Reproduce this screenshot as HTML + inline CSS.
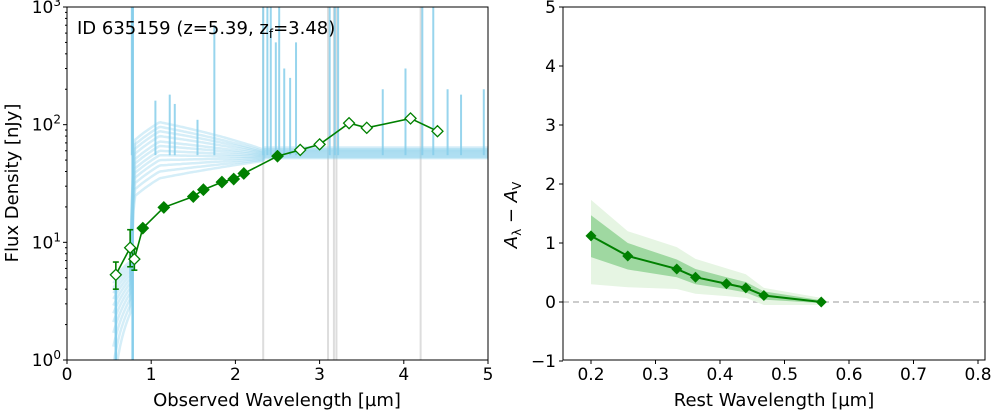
<!DOCTYPE html>
<html><head><meta charset="utf-8"><style>
body{margin:0;background:#fff;font-family:"Liberation Sans","DejaVu Sans",sans-serif}
svg text{font-family:"DejaVu Sans","Liberation Sans",sans-serif;fill:#000}
</style></head><body>
<svg id="c" width="996" height="415" viewBox="0 0 996 415" xmlns="http://www.w3.org/2000/svg"></svg>
<script>
// Left panel data
const sedWave=[0.58,0.75,0.80,0.90,1.15,1.50,1.62,1.84,1.98,2.10,2.50,2.77,3.00,3.35,3.56,4.08,4.40];
const sedFlux=[5.3,9.0,7.2,13.2,19.8,24.5,28,32.5,34.5,38.5,54,61,68,103,94,113,88];
const sedOpen=[1,1,1,0,0,0,0,0,0,0,0,1,1,1,1,1,1];
const sedErrLo=[4.0,6.2,5.8];const sedErrHi=[6.8,12.8,8.8];
const specPeak=[35,40,45,50,55,60,66,72,80,88,96,105];
const specEnd=[52,53,54,55,56,57,58,59,60,61,62,64];
const spikeWave=[0.77,1.05,1.22,1.28,1.55,1.75,2.33,2.38,2.42,2.48,2.52,2.58,2.65,2.72,3.12,3.18,3.22,3.75,4.02,4.22,4.35,4.52,4.68,4.95];
const spikeTop=[1000,160,180,150,110,700,1000,1000,1000,500,1000,300,250,500,1000,1000,1000,200,300,1000,1000,200,180,200];
const greyWave=[2.33,3.10,3.17,3.20,4.20];
const xTicksL=[0,1,2,3,4,5];
// Right panel data
const restWave=[0.2,0.257,0.333,0.362,0.41,0.44,0.468,0.557];
const attVal=[1.12,0.78,0.56,0.42,0.31,0.24,0.11,0.0];
const in1Lo=[0.76,0.55,0.42,0.3,0.22,0.16,0.04,-0.02];
const in1Hi=[1.47,1.0,0.72,0.56,0.42,0.34,0.18,0.03];
const outLo=[0.3,0.25,0.22,0.14,0.1,0.07,-0.05,-0.05];
const outHi=[1.73,1.2,0.93,0.73,0.57,0.47,0.24,0.07];
const xTicksR=[0.2,0.3,0.4,0.5,0.6,0.7,0.8];
const yTicksR=[-1,0,1,2,3,4,5];

const S=document.getElementById('c');const NS='http://www.w3.org/2000/svg';
function el(t,a,p){const e=document.createElementNS(NS,t);for(const k in a)e.setAttribute(k,a[k]);(p||S).appendChild(e);return e;}
const LX0=67,LX1=488,LY0=7,LY1=360;
const lx=v=>LX0+v/5*(LX1-LX0);
const ly=v=>LY1-(Math.log10(v))/3*(LY1-LY0);
const gL=el('g',{});
const clipL=el('clipPath',{id:'cl'});el('rect',{x:LX0,y:LY0,width:LX1-LX0,height:LY1-LY0},clipL);
const gS=el('g',{'clip-path':'url(#cl)'},gL);

greyWave.forEach(w=>{const l=el('line',{x1:lx(w),x2:lx(w),y1:LY0,y2:LY1,stroke:'#ddd','stroke-width':2},gS);});
specPeak.forEach((pk,i)=>{let pts=[];const en=specEnd[i];
 for(let w=0.55;w<=5.01;w+=0.02){let f;
  if(w<0.76)f=0.5+i*0.4+(w-0.55)*10; else if(w<0.80)f=(0.5+i*0.4)+(pk*0.7-(0.5+i*0.4))*(w-0.76)/0.04; else if(w<1.1)f=pk*(0.7+0.3*(w-0.8)/0.3); else if(w<2.35)f=pk+(en*0.95-pk)*(w-1.1)/1.25; else f=en;
  pts.push(lx(w).toFixed(1)+','+ly(Math.max(f,0.5)).toFixed(1));}
 const p=el('polyline',{points:pts.join(' '),fill:'none',stroke:'#87ceeb','stroke-width':2.5,opacity:0.35},gS);
 });
spikeWave.forEach((w,i)=>{const l=el('line',{x1:lx(w),x2:lx(w),y1:ly(spikeTop[i]),y2:ly(55),stroke:'#87ceeb','stroke-width':2,opacity:0.85},gS);});
el('line',{x1:lx(0.58),x2:lx(0.58),y1:ly(4),y2:LY1,stroke:'#87ceeb','stroke-width':2.5},gS);
el('line',{x1:lx(0.78),x2:lx(0.78),y1:LY0,y2:LY1,stroke:'#87ceeb','stroke-width':2.5},gS);
const sp=el('polyline',{points:sedWave.map((w,i)=>lx(w)+','+ly(sedFlux[i])).join(' '),fill:'none',stroke:'#008000','stroke-width':1.6},gL);

sedErrLo.forEach((lo,i)=>{const x=lx(sedWave[i]);el('line',{x1:x,x2:x,y1:ly(lo),y2:ly(sedErrHi[i]),stroke:'#008000','stroke-width':1.6},gL);
 [lo,sedErrHi[i]].forEach(v=>el('line',{x1:x-3,x2:x+3,y1:ly(v),y2:ly(v),stroke:'#008000','stroke-width':1.6},gL));});
sedWave.forEach((w,i)=>{const x=lx(w),y=ly(sedFlux[i]),r=5.5;
 const m=el('polygon',{points:`${x},${y-r} ${x+r},${y} ${x},${y+r} ${x-r},${y}`,fill:sedOpen[i]?'#fff':'#008000',stroke:'#008000','stroke-width':1.3},gL);
 });
el('rect',{x:LX0,y:LY0,width:LX1-LX0,height:LY1-LY0,fill:'none',stroke:'#000','stroke-width':1},gL);
xTicksL.forEach(v=>{el('line',{x1:lx(v),x2:lx(v),y1:LY1,y2:LY1+4,stroke:'#000'},gL);const t=el('text',{x:lx(v),y:LY1+20,'text-anchor':'middle','font-size':17},gL);t.textContent=v;});
[0,1,2,3].forEach(d=>{const y=ly(Math.pow(10,d));el('line',{x1:LX0-4,x2:LX0,y1:y,y2:y,stroke:'#000'},gL);
 const t=el('text',{x:LX0-6,y:y+6,'text-anchor':'end','font-size':17},gL);t.innerHTML='10<tspan dy="-7" font-size="12">'+d+'</tspan>';
 if(d<3)for(let k=2;k<10;k++){const yy=ly(k*Math.pow(10,d));el('line',{x1:LX0-2,x2:LX0,y1:yy,y2:yy,stroke:'#000'},gL);}});
let t=el('text',{x:277,y:406,'text-anchor':'middle','font-size':18},gL);t.textContent='Observed Wavelength [µm]';
t=el('text',{x:0,y:0,'text-anchor':'middle','font-size':18,transform:'translate(18,183) rotate(-90)'},gL);t.textContent='Flux Density [nJy]';
t=el('text',{x:77,y:34,'font-size':18},gL);t.innerHTML='ID 635159 (z=5.39, z<tspan dy="4" font-size="12">f</tspan><tspan dy="-4">=3.48)</tspan>';
// right panel
const RX0=563,RX1=985;
const rx=v=>591+(v-0.2)/0.6*(978-591);
const ry=v=>302-v*59;
const gR=el('g',{});
el('line',{x1:RX0,x2:RX1,y1:ry(0),y2:ry(0),stroke:'#bbb','stroke-width':1.5,'stroke-dasharray':'6,4'},gR);
function band(lo,hi,fill,name){const pts=restWave.map((w,i)=>rx(w)+','+ry(hi[i])).concat(restWave.slice().reverse().map((w,j)=>{const i=restWave.length-1-j;return rx(w)+','+ry(lo[i]);}));
 const p=el('polygon',{points:pts.join(' '),fill:fill},gR);}
band(outLo,outHi,'#e6f5e3','outer-band');band(in1Lo,in1Hi,'#9fd8a1','inner-band');
const ap=el('polyline',{points:restWave.map((w,i)=>rx(w)+','+ry(attVal[i])).join(' '),fill:'none',stroke:'#008000','stroke-width':2},gR);

restWave.forEach((w,i)=>{const x=rx(w),y=ry(attVal[i]),r=5.5;const m=el('polygon',{points:`${x},${y-r} ${x+r},${y} ${x},${y+r} ${x-r},${y}`,fill:'#008000'},gR);});
el('rect',{x:RX0,y:LY0,width:RX1-RX0,height:LY1-LY0,fill:'none',stroke:'#000'},gR);
xTicksR.forEach(v=>{el('line',{x1:rx(v),x2:rx(v),y1:LY1,y2:LY1+4,stroke:'#000'},gR);const t=el('text',{x:rx(v),y:LY1+20,'text-anchor':'middle','font-size':17},gR);t.textContent=v.toFixed(1);});
yTicksR.forEach(v=>{el('line',{x1:RX0-4,x2:RX0,y1:ry(v),y2:ry(v),stroke:'#000'},gR);const t=el('text',{x:RX0-7,y:ry(v)+6,'text-anchor':'end','font-size':17},gR);t.textContent=v<0?'−'+(-v):v;});
t=el('text',{x:774,y:406,'text-anchor':'middle','font-size':18},gR);t.textContent='Rest Wavelength [µm]';
t=el('text',{x:0,y:0,'text-anchor':'middle','font-size':18,transform:'translate(517,215) rotate(-90)'},gR);t.innerHTML='<tspan font-style="italic">A</tspan><tspan dy="4" font-size="12">λ</tspan><tspan dy="-4"> − </tspan><tspan font-style="italic">A</tspan><tspan dy="4" font-size="12">V</tspan>';
</script>
</body></html>
